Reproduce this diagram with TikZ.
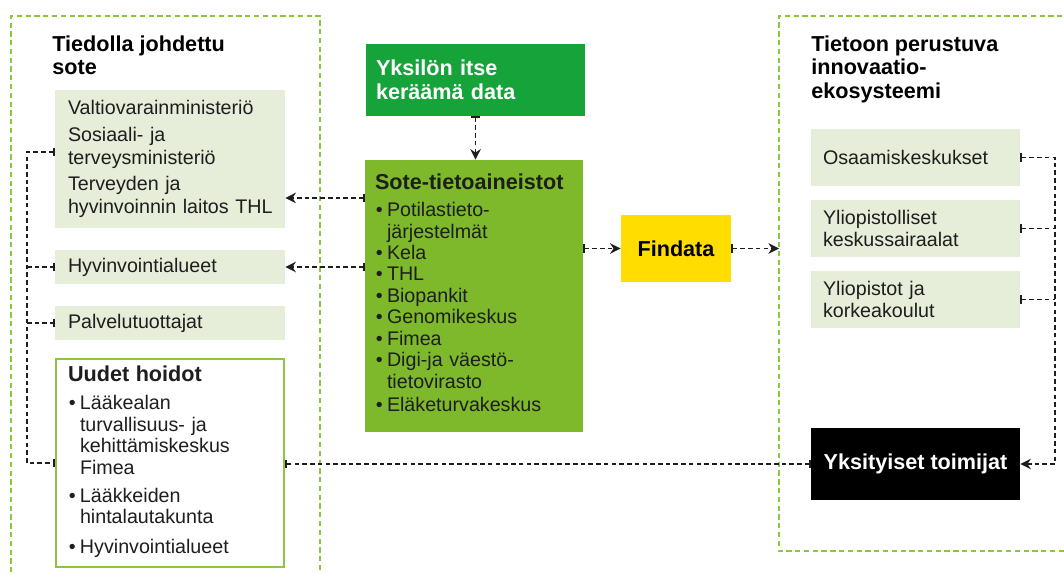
\documentclass[tikz,border=0pt]{standalone}
\usepackage{fontspec}
\setmainfont{Liberation Sans}
\usetikzlibrary{arrows.meta}

\definecolor{palegreen}{HTML}{E6EDD9}
\definecolor{darkgreen}{HTML}{16A33A}
\definecolor{midgreen}{HTML}{7DB92B}
\definecolor{framegreen}{HTML}{8CC63F}
\definecolor{findyellow}{HTML}{FFDD00}
\definecolor{ink}{HTML}{1E1E1E}

\newlength{\bulw}
\setlength{\bulw}{0.24cm}
\newcommand{\bul}[1]{\par\lineskip=0pt\noindent\makebox[\bulw][l]{\hspace{0.5pt}•}%
  \parbox[t]{3.6cm}{\raggedright\strut #1\strut}}
\newcommand{\headfont}{\fontsize{12.3}{13.6}\selectfont\bfseries}

\begin{document}
\begin{tikzpicture}[
    x = 0.02cm,
    y = -0.02cm,
    >={Stealth[length=6pt,width=6pt]},
    frame/.style = {framegreen, line width=1.1pt, dash pattern=on 3pt off 2pt},
    link/.style = {ink, line width=0.95pt, dash pattern=on 2.6pt off 1.8pt},
    flow/.style = {link, arrows={Bar[width=5pt]->}},
    tie/.style = {link, arrows={Bar[width=5pt]-Bar[width=5pt]}},
    stub/.style = {link, arrows={-Bar[width=5pt]}},
    spur/.style = {link, arrows={Bar[width=5pt]-}},
    body/.style = {font=\fontsize{11.2}{12.2}\selectfont, text=ink},
    head/.style = {font=\headfont},
    lightbox/.style = {
      body,
      fill = palegreen,
      minimum width = 4.6cm,
      text width = 4.08cm,
      inner xsep = 0.26cm,
      align = left
    },
    rbox/.style = {
      body,
      fill = palegreen,
      minimum width = 4.18cm,
      minimum height = 1.14cm,
      text width = 3.7cm,
      inner xsep = 0.24cm,
      align = left
    }
  ]
  \useasboundingbox (0,0) rectangle (1064,574);
  \clip (0,0) rectangle (1064,574);

  \draw[frame] (11,590) -- (11,16) -- (320,16) -- (320,590);
  \draw[frame] (1080,16) -- (779,16) -- (779,551) -- (1080,551);
  \coordinate (rframe) at (779,16);
  \coordinate (lbus) at (27,0);
  \coordinate (rbus) at (1055,0);

  \node[head, anchor=north west, align=left, inner sep=0pt] (ltitle) at (52,35)
    {Tiedolla johdettu\\sote};
  \node[head, anchor=north west, align=left, inner sep=0pt] (rtitle) at (811,35)
    {Tietoon perustuva\\innovaatio-\\ekosysteemi};

  \node[lightbox, font=\fontsize{11.2}{13}\selectfont, minimum height=2.76cm] (vm) at (170,159)
    {\parskip=2pt Valtiovarainministeriö\par Sosiaali- ja\\terveysministeriö\par
     Terveyden ja\\hyvinvoinnin~laitos~THL};
  \node[lightbox, minimum height=0.68cm] (hva) at (170,267) {Hyvinvointialueet};
  \node[lightbox, minimum height=0.68cm] (pt) at (170,323) {Palvelutuottajat};
  \node[lightbox, fill=white, draw=framegreen, line width=1.1pt,
        minimum width=4.56cm, minimum height=4.16cm, inner xsep=0.24cm] (uh) at (170,463)
    {{\headfont Uudet hoidot\par}\parskip=3.7pt
     \bul{Lääkealan\\turvallisuus- ja\\kehittämiskeskus\\Fimea}
     \bul{Lääkkeiden\\hintalautakunta}
     \bul{Hyvinvointialueet}};

  \node[head, fill=darkgreen, text=white, align=left, minimum width=4.38cm,
        minimum height=1.44cm, text width=3.98cm, inner xsep=0.2cm] (yk) at (475.5,80)
    {Yksilön itse\\keräämä data};
  \node[body, fill=midgreen, align=left, minimum width=4.36cm, minimum height=5.44cm,
        text width=3.96cm, inner xsep=0.2cm] (sote) at (474,296)
    {{\headfont Sote-tietoaineistot\par}\vspace{3pt}
     \bul{Potilastieto-\\järjestelmät}
     \bul{Kela}
     \bul{THL}
     \bul{Biopankit}
     \bul{Genomikeskus}
     \bul{Fimea}
     \bul{Digi-ja väestö-\\tietovirasto}
     \bul{Eläketurvakeskus}};
  \node[head, fill=findyellow, text=black, minimum width=2.2cm, minimum height=1.34cm]
    (findata) at (676,248.5) {Findata};

  \node[rbox] (om) at (915.5,157.5) {Osaamiskeskukset};
  \node[rbox] (yks) at (915.5,228.5) {Yliopistolliset\\keskussairaalat};
  \node[rbox] (ylk) at (915.5,299.5) {Yliopistot ja\\korkeakoulut};
  \node[head, fill=black, text=white, minimum width=4.18cm, minimum height=1.44cm]
    (yt) at (915.5,464) {Yksityiset toimijat};

  \coordinate (vmin) at ([yshift=-0.78cm]vm.east);
  \coordinate (vmout) at ([yshift=0.14cm]vm.west);

  \draw[flow] (yk.south) -- (yk.south |- sote.north);
  \draw[flow] (vmin -| sote.west) -- (vmin);
  \draw[flow] (hva.east -| sote.west) -- (hva.east);
  \draw[flow] (findata.west -| sote.east) -- (findata.west);
  \draw[flow] (findata.east) -- (findata.east -| rframe);

  \draw[tie] (vmout) -- (vmout -| lbus) -- (uh.west -| lbus) -- (uh.west);
  \draw[stub] (hva.west -| lbus) -- (hva.west);
  \draw[stub] (pt.west -| lbus) -- (pt.west);

  \draw[tie] (yt.west) -- (yt.west -| uh.east);

  \draw[flow] (om.east) -- (om.east -| rbus) -- (yt.east -| rbus) -- (yt.east);
  \draw[spur] (yks.east) -- (yks.east -| rbus);
  \draw[spur] (ylk.east) -- (ylk.east -| rbus);

\end{tikzpicture}
\end{document}
